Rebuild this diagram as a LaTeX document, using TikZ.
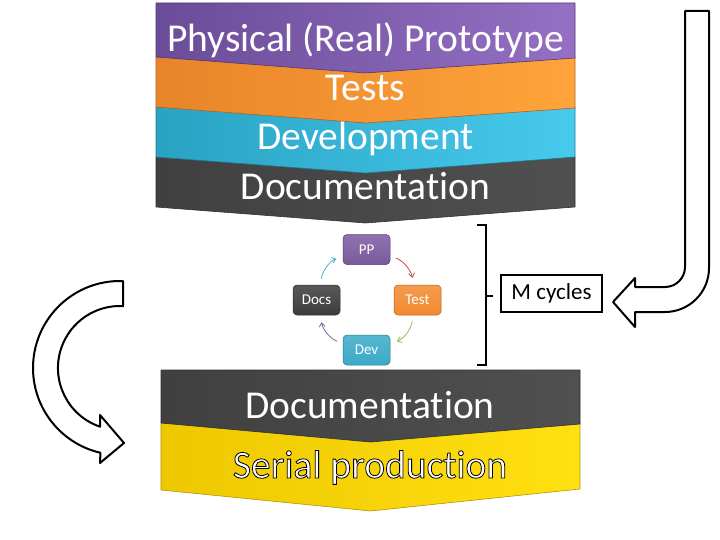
\documentclass[tikz,border=0pt]{standalone}
\usepackage{fontspec}
\setmainfont[Ligatures={NoCommon}]{Carlito}
\usetikzlibrary{arrows.meta}
\definecolor{purpL}{HTML}{6B4C98}
\definecolor{purpR}{HTML}{9570C4}
\definecolor{orL}{HTML}{E8842A}
\definecolor{orR}{HTML}{FFA43A}
\definecolor{cyL}{HTML}{2AA2C2}
\definecolor{cyR}{HTML}{46CAEE}
\definecolor{dkL}{HTML}{404040}
\definecolor{dkR}{HTML}{505050}
\definecolor{yeL}{HTML}{EEC800}
\definecolor{yeR}{HTML}{FFE012}
\definecolor{ppc}{HTML}{7A5A9E}
\definecolor{tsc}{HTML}{F28A2E}
\definecolor{dvc}{HTML}{3AAAC8}
\definecolor{dcc}{HTML}{3C3C3C}
\definecolor{arR}{HTML}{C0504D}
\definecolor{arG}{HTML}{9BBB59}
\definecolor{arP}{HTML}{8064A2}
\definecolor{arC}{HTML}{4BACC6}
\begin{document}
\begin{tikzpicture}[x=1pt,y=-1pt,
  band/.style 2 args={left color=#1, right color=#2, draw=#1!75!black, line width=0.6pt, line join=round},
  bigtxt/.style={text=white, font=\fontsize{39.5}{39.5}\selectfont, anchor=base, inner sep=0pt},
  cyc/.style={rounded corners=4pt, minimum width=47pt, minimum height=30pt, text=white,
    font=\fontsize{15}{15}\selectfont, inner sep=0pt, draw=#1!70!black, line width=0.5pt,
    top color=#1!85!white, bottom color=#1},
  carrow/.style={-{Straight Barb[length=4pt,width=6pt]}, line width=0.8pt, bend left=30,
    shorten <=6pt, shorten >=7pt},
  outl/.style={draw=black, line width=2pt, fill=white, line join=round}
]
\useasboundingbox (0,0) rectangle (720,540);
\fill[white] (0,0) rectangle (720,540);

% top stack
\path[band={dkL}{dkR}] (156,157) -- (575,157) -- (575,207) -- (365.5,223) -- (156,207) -- cycle;
\path[band={cyL}{cyR}] (156,107) -- (575,107) -- (575,157) -- (365.5,173) -- (156,157) -- cycle;
\path[band={orL}{orR}] (156,57) -- (575,57) -- (575,108) -- (365.5,123) -- (156,107) -- cycle;
\path[band={purpL}{purpR}] (156,3) -- (575,3) -- (575,58) -- (365.5,73) -- (156,57) -- cycle;
\node[bigtxt] (t1) at (365.5,52) {Physical (Real) Prototype};
\node[bigtxt] (t2) at (365.5,101) {Tests};
\node[bigtxt] (t3) at (365.5,150) {Development};
\node[bigtxt] (t4) at (365.5,200) {Documentation};

% bottom stack
\path[band={yeL}{yeR}] (161,423) -- (580,423) -- (580,489) -- (370.5,511) -- (161,490) -- cycle;
\path[band={dkL}{dkR}] (161,370) -- (580,370) -- (580,424) -- (370.5,442) -- (161,423) -- cycle;
\node[bigtxt] (b1) at (370,418) {Documentation};
\node[bigtxt] (b2) at (370,478) {\special{pdf:literal direct 0 0 0 RG 0.8 w 2 Tr}Serial production\special{pdf:literal direct 0 Tr}};

% cycle
\node[cyc=ppc] (pp) at (366.5,249.5) {PP};
\node[cyc=tsc] (test) at (417.5,300) {Test};
\node[cyc=dvc] (dev) at (366.5,350) {Dev};
\node[cyc=dcc] (docs) at (316.5,300) {Docs};
\draw[carrow, arR] (pp) to (test);
\draw[carrow, arG] (test) to (dev);
\draw[carrow, arP] (dev) to (docs);
\draw[carrow, arC] (docs) to (pp);

% bracket and label
\node[draw=black, line width=1.2pt, minimum width=101pt, minimum height=37pt, inner sep=0pt,
  font=\fontsize{23}{23}\selectfont] (mc) at (551.5,293.5) {M cycles};
\draw[line width=2.2pt, line join=miter] (477,225) -- (486,225) -- (486,365) -- (477,365);
\coordinate (brk) at (486,296);
\draw[line width=2.2pt] (brk) -- ([xshift=-7pt]mc.west |- brk);

% right U-turn arrow
\draw[outl] (685,11) -- (709,11) -- (709,268) arc[start angle=0, end angle=90, radius=44]
  -- (635,312) -- (635,327) -- (613,302) -- (635,278) -- (635,287) -- (665,287)
  arc[start angle=90, end angle=0, radius=20] -- cycle;

% left C arrow
\draw[outl] (123.04,281.05) arc[start angle=-88, end angle=-257, radius=87]
  -- (100,463) -- (124,443) -- (100,415) -- (100.1,426.7)
  arc[start angle=-251.3, end angle=-87, radius=62] -- cycle;
\end{tikzpicture}
\end{document}
